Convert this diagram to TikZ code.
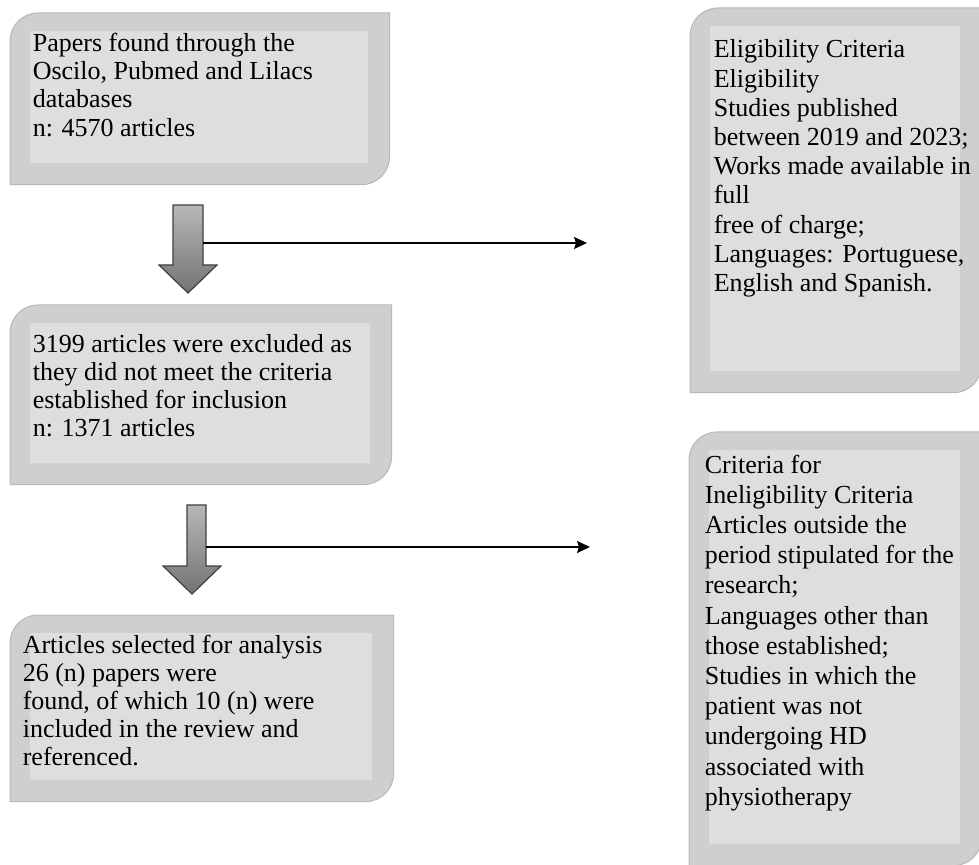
\documentclass[tikz,border=0pt]{standalone}
\usepackage{fontspec}
\setmainfont{Liberation Serif}
\usepackage{tikz}
\usetikzlibrary{
  calc,
  positioning,
  arrows.meta}

\begin{document}
\begin{tikzpicture}[
  x=0.5pt,y=0.5pt,
  >={Stealth[length=6.5pt,width=6pt,inset=1pt]},
  line width=0.8pt,
  panel/.style={rectangle,anchor=north west,inner sep=0pt},
  panelrim/.style={fill=black!19,draw=black!28,line width=0.5pt},
  panelcore/.style={fill=black!13},
  paneltext/.style={anchor=north west,align=left,inner sep=0pt,
    font=\fontsize{13}{14.2}\selectfont},
  blockarrow/.style={top color=black!28,bottom color=black!55,draw=black!75,line width=0.6pt}
]%
  \useasboundingbox (0,0) rectangle (979,-865);

  \node[panel,minimum width=189pt,minimum height=85pt] (src) at (10,-13) {};
  \node[panel,minimum width=190pt,minimum height=89pt] (excl) at (10,-305) {};
  \node[panel,minimum width=191pt,minimum height=92.5pt] (sel) at (10,-615) {};
  \node[panel,minimum width=145pt,minimum height=191.5pt] (elig) at (690,-8) {};
  \node[panel,minimum width=145.5pt,minimum height=216pt] (inel) at (689,-432) {};

  \foreach \p in {src,excl,sel,elig,inel}{
    \filldraw[panelrim] ([yshift=-14pt]\p.north west)
      arc[start angle=180,end angle=90,radius=14pt] -- (\p.north east)
      -- ([yshift=14pt]\p.south east)
      arc[start angle=0,end angle=-90,radius=14pt] -- (\p.south west) -- cycle;
    \fill[panelcore] ([shift={(10pt,-9pt)}]\p.north west)
      rectangle ([shift={(-11pt,11pt)}]\p.south east);
  }

  \node[paneltext] (srcText) at (32,-32)
    {Papers found through the\\Oscilo, Pubmed and Lilacs\\databases\\n: 4570 articles};
  \node[paneltext,font=\fontsize{13}{13.9}\selectfont] (exclText) at (32,-334)
    {3199 articles were excluded as\\they did not meet the criteria\\established for inclusion\\n: 1371 articles};
  \node[paneltext,font=\fontsize{13}{14}\selectfont] (selText) at (22,-634)
    {Articles selected for analysis\\26 (n) papers were\\found, of which 10 (n) were\\included in the review and\\referenced.};
  \node[paneltext,font=\fontsize{13}{14.6}\selectfont] (eligText) at (713,-39)
    {Eligibility Criteria\\Eligibility\\Studies published\\between 2019 and 2023;\\Works made available in\\full\\free of charge;\\Languages: Portuguese,\\English and Spanish.};
  \node[paneltext,font=\fontsize{13}{15.1}\selectfont] (inelText) at (704,-454)
    {Criteria for\\Ineligibility Criteria\\Articles outside the\\period stipulated for the\\research;\\Languages other than\\those established;\\Studies in which the\\patient was not\\undergoing HD\\associated with\\physiotherapy};

  % block arrows down the left column
  \coordinate (tip1) at (188,-293);
  \coordinate (tip2) at (192,-594);
  \draw[blockarrow] ($(tip1)+(-15,88)$) -- ++(30,0) -- ++(0,-60) -- ++(14,0)
    -- (tip1) -- ++(-29,28) -- ++(14,0) -- cycle;
  \draw[blockarrow] ($(tip2)+(-5,89)$) -- ++(19,0) -- ++(0,-61) -- ++(15,0)
    -- (tip2) -- ++(-29,28) -- ++(24,0) -- cycle;

  \coordinate (out1) at (203,-243);
  \coordinate (end1) at (587,-243);
  \coordinate (out2) at (206,-547);
  \coordinate (end2) at (590,-547);
  \draw[->] (out1) -- (end1);
  \draw[->] (out2) -- (end2);
\end{tikzpicture}
\end{document}
